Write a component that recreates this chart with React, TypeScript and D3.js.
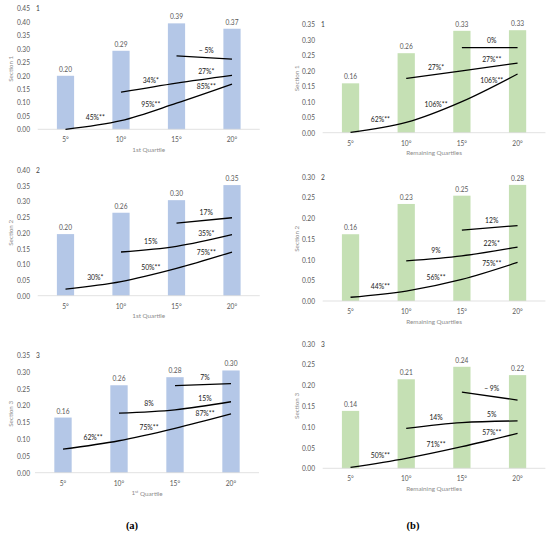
import * as d3 from "d3";

// categories and tick labels
const categories = ["5°", "10°", "15°", "20°"];
const sectionNames = ["Section 1", "Section 2", "Section 3"];
const panelNumbers = ["1", "2", "3"];

// bar heights (mean values), 1st quartile and remaining quartiles
const barsFirst = [
  [0.199, 0.292, 0.394, 0.374],
  [0.196, 0.264, 0.304, 0.352],
  [0.164, 0.26, 0.284, 0.304],
];
const barsRest = [
  [0.159, 0.256, 0.328, 0.33],
  [0.161, 0.234, 0.254, 0.28],
  [0.138, 0.214, 0.244, 0.224],
];

// y axis maximum of each panel
const axisMaxFirst = [0.45, 0.4, 0.35];
const axisMaxRest = [0.35, 0.3, 0.3];

// trend lines: from 5°, from 10°, from 15°
const linesFirst = [
  [[0.0, 0.032, 0.097, 0.168], [0.138, 0.172, 0.201], [0.273, 0.261]],
  [[0.021, 0.045, 0.087, 0.139], [0.139, 0.157, 0.194], [0.231, 0.248]],
  [[0.07, 0.095, 0.132, 0.175], [0.177, 0.187, 0.211], [0.259, 0.265]],
];
const linesRest = [
  [[0.001, 0.033, 0.1, 0.189], [0.175, 0.199, 0.224], [0.274, 0.274]],
  [[0.009, 0.024, 0.052, 0.093], [0.097, 0.109, 0.13], [0.171, 0.182]],
  [[0.002, 0.024, 0.052, 0.084], [0.096, 0.11, 0.114], [0.183, 0.164]],
];

// percentage change labels per line segment
const labelsFirst = [
  [["45%**", "95%**", "85%**"], ["34%*", "27%*"], ["− 5%"]],
  [["30%*", "50%**", "75%**"], ["15%", "35%*"], ["17%"]],
  [["62%**", "75%**", "87%**"], ["8%", "15%"], ["7%"]],
];
const labelsRest = [
  [["62%**", "106%**", "106%**"], ["27%*", "27%**"], ["0%"]],
  [["44%**", "56%**", "75%**"], ["9%", "22%*"], ["12%"]],
  [["50%**", "71%**", "57%**"], ["14%", "5%"], ["− 9%"]],
];

const W = 550;
const H = 537;
const FONT = "Lato, 'Open Sans', sans-serif";
const BLUE = "#b4c7e7";
const GREEN = "#c5e0b4";
const GRAY = "#595959";

// panel frames in page pixels
const FRAMES_LEFT = [
  { x0: 37.75, x1: 259.75, top: 8.3, zero: 129.3, tickRight: 30, titleX: 10 },
  { x0: 37.75, x1: 259.75, top: 170, zero: 295.7, tickRight: 30, titleX: 10 },
  { x0: 35, x1: 259, top: 355, zero: 472.7, tickRight: 30, titleX: 10 },
];
const FRAMES_RIGHT = [
  { x0: 322.7, x1: 545.4, top: 24, zero: 132.7, tickRight: 315, titleX: 296 },
  { x0: 322.7, x1: 545.4, top: 176.6, zero: 301, tickRight: 315, titleX: 296 },
  { x0: 322.7, x1: 545.4, top: 343.5, zero: 468.3, tickRight: 315, titleX: 296 },
];

type Frame = (typeof FRAMES_LEFT)[number];

interface PanelProps {
  frame: Frame;
  bars: number[];
  yMax: number;
  lines: number[][];
  labels: string[][];
  color: string;
  section: string;
  num: string;
  xTitle: React.ReactNode;
}

function Panel({ frame, bars, yMax, lines, labels, color, section, num, xTitle }: PanelProps) {
  const x = d3.scaleBand<string>().domain(categories).range([frame.x0, frame.x1]).paddingInner(0.69).paddingOuter(0.345);
  const y = d3.scaleLinear().domain([0, yMax]).range([frame.zero, frame.top]);
  const cx = (i: number) => (x(categories[i]) ?? 0) + x.bandwidth() / 2;
  const ticks = d3.range(0, yMax + 1e-9, 0.05);
  const fmt = d3.format(".2f");

  const line = d3
    .line<[number, number]>()
    .x((d) => cx(d[0]))
    .y((d) => y(d[1]))
    .curve(d3.curveMonotoneX);

  const xMid = (frame.x0 + frame.x1) / 2;

  return (
    <g fontFamily={FONT}>
      {ticks.map((t) => (
        <text key={t} x={frame.tickRight} y={y(t)} textAnchor="end" dominantBaseline="central" fontSize={6.6} fill={GRAY}>
          {fmt(t)}
        </text>
      ))}
      <text x={frame.tickRight + 6} y={y(yMax)} dominantBaseline="central" fontSize={6.6} fill="#404040">
        {num}
      </text>
      <text
        transform={`translate(${frame.titleX},${(frame.top + frame.zero) / 2}) rotate(-90)`}
        textAnchor="middle"
        dominantBaseline="central"
        fontSize={6.3}
        fill="#8c8c8c"
      >
        {section}
      </text>

      {bars.map((v, i) => (
        <g key={i}>
          <rect x={x(categories[i])} y={y(v)} width={x.bandwidth()} height={frame.zero - y(v)} fill={color} />
          <text x={cx(i)} y={y(v) - 7} textAnchor="middle" dominantBaseline="central" fontSize={6.6} fill={GRAY}>
            {fmt(v)}
          </text>
        </g>
      ))}
      <line x1={frame.x0} x2={frame.x1} y1={frame.zero} y2={frame.zero} stroke="#d9d9d9" strokeWidth={0.8} />

      {categories.map((c, i) => (
        <text key={c} x={cx(i)} y={frame.zero + 10} textAnchor="middle" dominantBaseline="central" fontSize={6.6} fill={GRAY}>
          {c}
        </text>
      ))}
      <text x={xMid} y={frame.zero + 20} textAnchor="middle" dominantBaseline="central" fontSize={6.3} fill="#8c8c8c">
        {xTitle}
      </text>

      {lines.map((vals, li) => {
        const start = li;
        const pts = vals.map((v, k) => [start + k, v] as [number, number]);
        return (
          <g key={li}>
            <path d={line(pts) ?? undefined} fill="none" stroke="#000" strokeWidth={1.3} />
            {labels[li].map((lab, k) => {
              const lx = (cx(start + k) + cx(start + k + 1)) / 2 + 2;
              const ly = (y(vals[k]) + y(vals[k + 1])) / 2 - 8;
              return (
                <text key={k} x={lx} y={ly} textAnchor="middle" dominantBaseline="central" fontSize={6.8} fill="#1a1a1a">
                  {lab}
                </text>
              );
            })}
          </g>
        );
      })}
    </g>
  );
}

export default function App() {
  return (
    <svg width={W} height={H} style={{ position: "absolute", left: 0, top: 0, background: "#fff" }}>
      {sectionNames.map((s, i) => (
        <Panel
          key={`a${i}`}
          frame={FRAMES_LEFT[i]}
          bars={barsFirst[i]}
          yMax={axisMaxFirst[i]}
          lines={linesFirst[i]}
          labels={labelsFirst[i]}
          color={BLUE}
          section={s}
          num={panelNumbers[i]}
          xTitle={
            i === 2 ? (
              <>
                1<tspan fontSize={4.2} dy={-2}>st</tspan>
                <tspan dy={2}> Quartile</tspan>
              </>
            ) : (
              "1st Quartile"
            )
          }
        />
      ))}
      {sectionNames.map((s, i) => (
        <Panel
          key={`b${i}`}
          frame={FRAMES_RIGHT[i]}
          bars={barsRest[i]}
          yMax={axisMaxRest[i]}
          lines={linesRest[i]}
          labels={labelsRest[i]}
          color={GREEN}
          section={s}
          num={panelNumbers[i]}
          xTitle="Remaining Quartiles"
        />
      ))}
      <text x={132} y={529} textAnchor="middle" fontFamily="'Liberation Serif', serif" fontWeight="bold" fontSize={10.5} fill="#000">
        (a)
      </text>
      <text x={413} y={529} textAnchor="middle" fontFamily="'Liberation Serif', serif" fontWeight="bold" fontSize={10.5} fill="#000">
        (b)
      </text>
    </svg>
  );
}
